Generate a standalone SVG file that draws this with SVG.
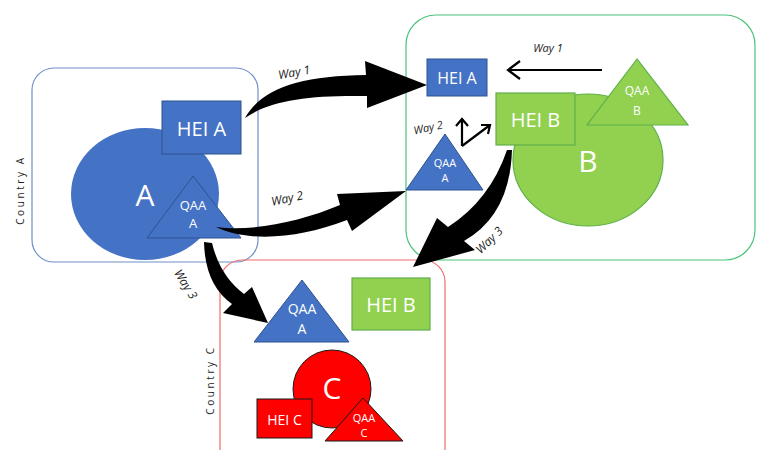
<svg xmlns="http://www.w3.org/2000/svg" width="758" height="450" viewBox="0 0 758 450">
<style>
text{font-family:"Open Sans","Liberation Sans",sans-serif;text-anchor:middle;dominant-baseline:central}
.w{fill:#fff}
.blue{fill:#4472C4;stroke:#2F528F;stroke-width:1}
.green{fill:#92D050;stroke:#5FB04A;stroke-width:1.2}
.red{fill:#FF0000;stroke:#1a1a1a;stroke-width:1}
.lbl{fill:#222;font-style:italic;font-size:12px}
.sl{fill:#222;font-style:italic;font-size:11px}
.cty{fill:#222;font-size:10px;letter-spacing:2.6px}
.big{fill:#000}
.thin{fill:none;stroke:#000;stroke-width:2.2}
</style>
<rect width="758" height="450" fill="#fff"/>
<g id="countryA">
<rect x="32" y="68" width="226" height="194" rx="22" fill="none" stroke="#6F8FC9" stroke-width="1.2"/>
<text class="cty" transform="translate(20,190) rotate(-90)">Country A</text>
</g>
<g id="countryB">
<rect x="406" y="15" width="349" height="245" rx="30" fill="none" stroke="#4CC27A" stroke-width="1.2"/>
</g>
<g id="countryC">
<rect x="220" y="260" width="225" height="210" rx="22" fill="none" stroke="#F26B6B" stroke-width="1.2"/>
<text class="cty" transform="translate(210,380) rotate(-90)">Country C</text>
</g>
<g id="circleA">
<ellipse cx="145" cy="194" rx="74" ry="66" fill="#4472C4"/>
<text class="w" x="145" y="194" font-size="30">A</text>
</g>
<g id="heiA1">
<rect class="blue" x="162" y="101" width="79" height="53"/>
<text class="w" x="201.5" y="128" font-size="20">HEI A</text>
</g>
<g id="qaaA1">
<polygon class="blue" points="193,176 147,238 241,238"/>
<text class="w" x="193" y="205" font-size="13">QAA</text>
<text class="w" x="193" y="223" font-size="13">A</text>
</g>
<g id="circleB">
<ellipse cx="588" cy="160" rx="75" ry="66" fill="#92D050" stroke="#5FB04A" stroke-width="1.2"/>
<text class="w" x="588" y="160" font-size="30">B</text>
</g>
<g id="heiB1">
<rect class="green" x="496" y="93" width="79" height="52"/>
<text class="w" x="535.5" y="119" font-size="20">HEI B</text>
</g>
<g id="qaaB">
<polygon class="green" points="637,59 587,125 688,125"/>
<text class="w" x="637" y="90" font-size="12">QAA</text>
<text class="w" x="637" y="110" font-size="12">B</text>
</g>
<g id="heiA2">
<rect class="blue" x="427" y="59" width="60" height="37"/>
<text class="w" x="457" y="77.5" font-size="16">HEI A</text>
</g>
<g id="qaaA2">
<polygon class="blue" points="445,134 406,190 483,190"/>
<text class="w" x="445" y="162" font-size="11">QAA</text>
<text class="w" x="445" y="177" font-size="11">A</text>
</g>
<g id="qaaA3">
<polygon class="blue" points="302,280 254,342 349,342"/>
<text class="w" x="302" y="308" font-size="14">QAA</text>
<text class="w" x="302" y="328" font-size="14">A</text>
</g>
<g id="heiB2">
<rect class="green" x="352" y="278" width="78" height="52"/>
<text class="w" x="391" y="304" font-size="20">HEI B</text>
</g>
<g id="circleC">
<circle class="red" cx="332" cy="389" r="39"/>
<text class="w" x="332" y="387" font-size="30">C</text>
</g>
<g id="heiC">
<rect class="red" x="257" y="399" width="55" height="39"/>
<text class="w" x="284.5" y="419" font-size="14">HEI C</text>
</g>
<g id="qaaC">
<polygon class="red" points="363,398 325,441 403,441"/>
<text class="w" x="364" y="417" font-size="11">QAA</text>
<text class="w" x="364" y="432" font-size="11">C</text>
</g>
<g id="connectors">
<path class="big" d="M245,118 C262,88 300,76 366,75 L365,61 L427,85 L367,108 L367,96 C310,95 270,100 245,118 Z"/>
<text class="lbl" transform="translate(294,72) rotate(-10)">Way 1</text>
<path class="big" d="M216,227 C250,232 300,222 340,205 L337,194 L406,191 L352,231 L347,220 C300,238 250,243 216,227 Z"/>
<text class="lbl" transform="translate(287,198) rotate(-12)">Way 2</text>
<path class="big" d="M204,242 L212,243 Q220,276 244,294 L252,287 L268,323 L223,313 L232,304 Q205,285 204,242 Z"/>
<text class="lbl" transform="translate(186,284) rotate(58)">Way 3</text>
<path class="big" d="M507,150 L512,150 Q510,215 464,241 L475,250 L413,267 L437,218 L448,227 Q490,200 507,150 Z"/>
<text class="lbl" transform="translate(489,240) rotate(-45)">Way 3</text>
<path class="thin" d="M602,70 L508,70 M520,61 L508,70 L520,79"/>
<text class="sl" transform="translate(548,47)">Way 1</text>
<path class="thin" d="M462,146 L462,120 M456,126 L462,119 L468,126 M462,146 L490,125 M481,125 L490,125 L488,134"/>
<text class="sl" transform="translate(428,127) rotate(-12)">Way 2</text>
</g>
</svg>
